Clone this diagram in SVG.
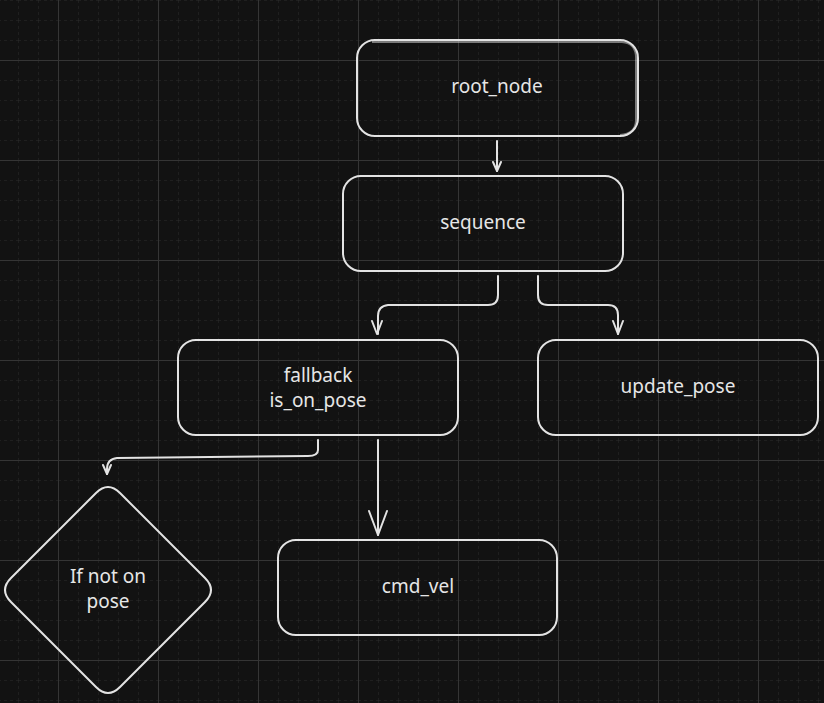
<svg xmlns="http://www.w3.org/2000/svg" width="824" height="703" viewBox="0 0 824 703">
  <defs>
    <pattern id="minor" x="18" y="0" width="20" height="20" patternUnits="userSpaceOnUse">
      <path d="M0 0V20M0 0H20" stroke="#2c2c2c" stroke-width="1" stroke-dasharray="3 3" fill="none"/>
    </pattern>
    <pattern id="major" x="58" y="60" width="100" height="100" patternUnits="userSpaceOnUse">
      <path d="M0.5 0V100M0 0.5H100" stroke="#353535" stroke-width="1" fill="none"/>
    </pattern>
    <style>
      .box{fill:none;stroke:#e3e3e3;stroke-width:2;stroke-linejoin:round}
      .lbl{fill:#e6e6e6;font-family:"Noto Sans","Liberation Sans",sans-serif;font-size:19px;text-anchor:middle}
      .conn path{fill:none;stroke:#e3e3e3;stroke-width:2;stroke-linecap:round;stroke-linejoin:round}
    </style>
  </defs>
  <rect width="824" height="703" fill="#121212"/>
  <rect width="824" height="703" fill="url(#minor)"/>
  <rect width="824" height="703" fill="url(#major)"/>

  <g id="root_node">
    <rect class="box" x="357" y="40" width="281" height="96" rx="18"/>
    <path class="box" d="M372 42 H622 Q637 43 636 60 V120 Q636 134 620 135" stroke-opacity="0.5"/>
    <text class="lbl" x="497" y="93">root_node</text>
  </g>

  <g id="sequence">
    <rect class="box" x="343" y="176" width="280" height="95" rx="18"/>
    <text class="lbl" x="483" y="229">sequence</text>
  </g>

  <g id="fallback">
    <rect class="box" x="178" y="340" width="280" height="95" rx="18"/>
    <text class="lbl" x="318" y="382">fallback</text>
    <text class="lbl" x="318" y="407">is_on_pose</text>
  </g>

  <g id="update_pose">
    <rect class="box" x="538" y="340" width="280" height="95" rx="18"/>
    <text class="lbl" x="678" y="393">update_pose</text>
  </g>

  <g id="cmd_vel">
    <rect class="box" x="278" y="540" width="279" height="95" rx="18"/>
    <text class="lbl" x="418" y="593">cmd_vel</text>
  </g>

  <g id="if_not_on_pose">
    <path class="box" d="M96 493 Q108 481 120 493 L205 578 Q217 590 205 602 L120 687 Q108 699 96 687 L11 602 Q-1 590 11 578 Z"/>
    <text class="lbl" x="108" y="583">If not on</text>
    <text class="lbl" x="108" y="608">pose</text>
  </g>

  <g id="connectors" class="conn">
    <path d="M497 141 V171"/>
    <path d="M493 162 L497 171 L501 162"/>

    <path d="M498 276 V295 Q498 305 488 305 H388 Q378 306 378 316 V334"/>
    <path d="M372 321 L377 334 L382 321"/>

    <path d="M538 276 V295 Q538 305 548 305 H608 Q618 305 618 315 V334"/>
    <path d="M613 321 L618 334 L623 321"/>

    <path d="M318 440 V450 Q318 456 308 456 L117 458 Q107 459 107 469 V474"/>
    <path d="M103 465 L107 474 L111 465"/>

    <path d="M378 440 V535"/>
    <path d="M369 511 L378 535 L387 511"/>
  </g>
</svg>
